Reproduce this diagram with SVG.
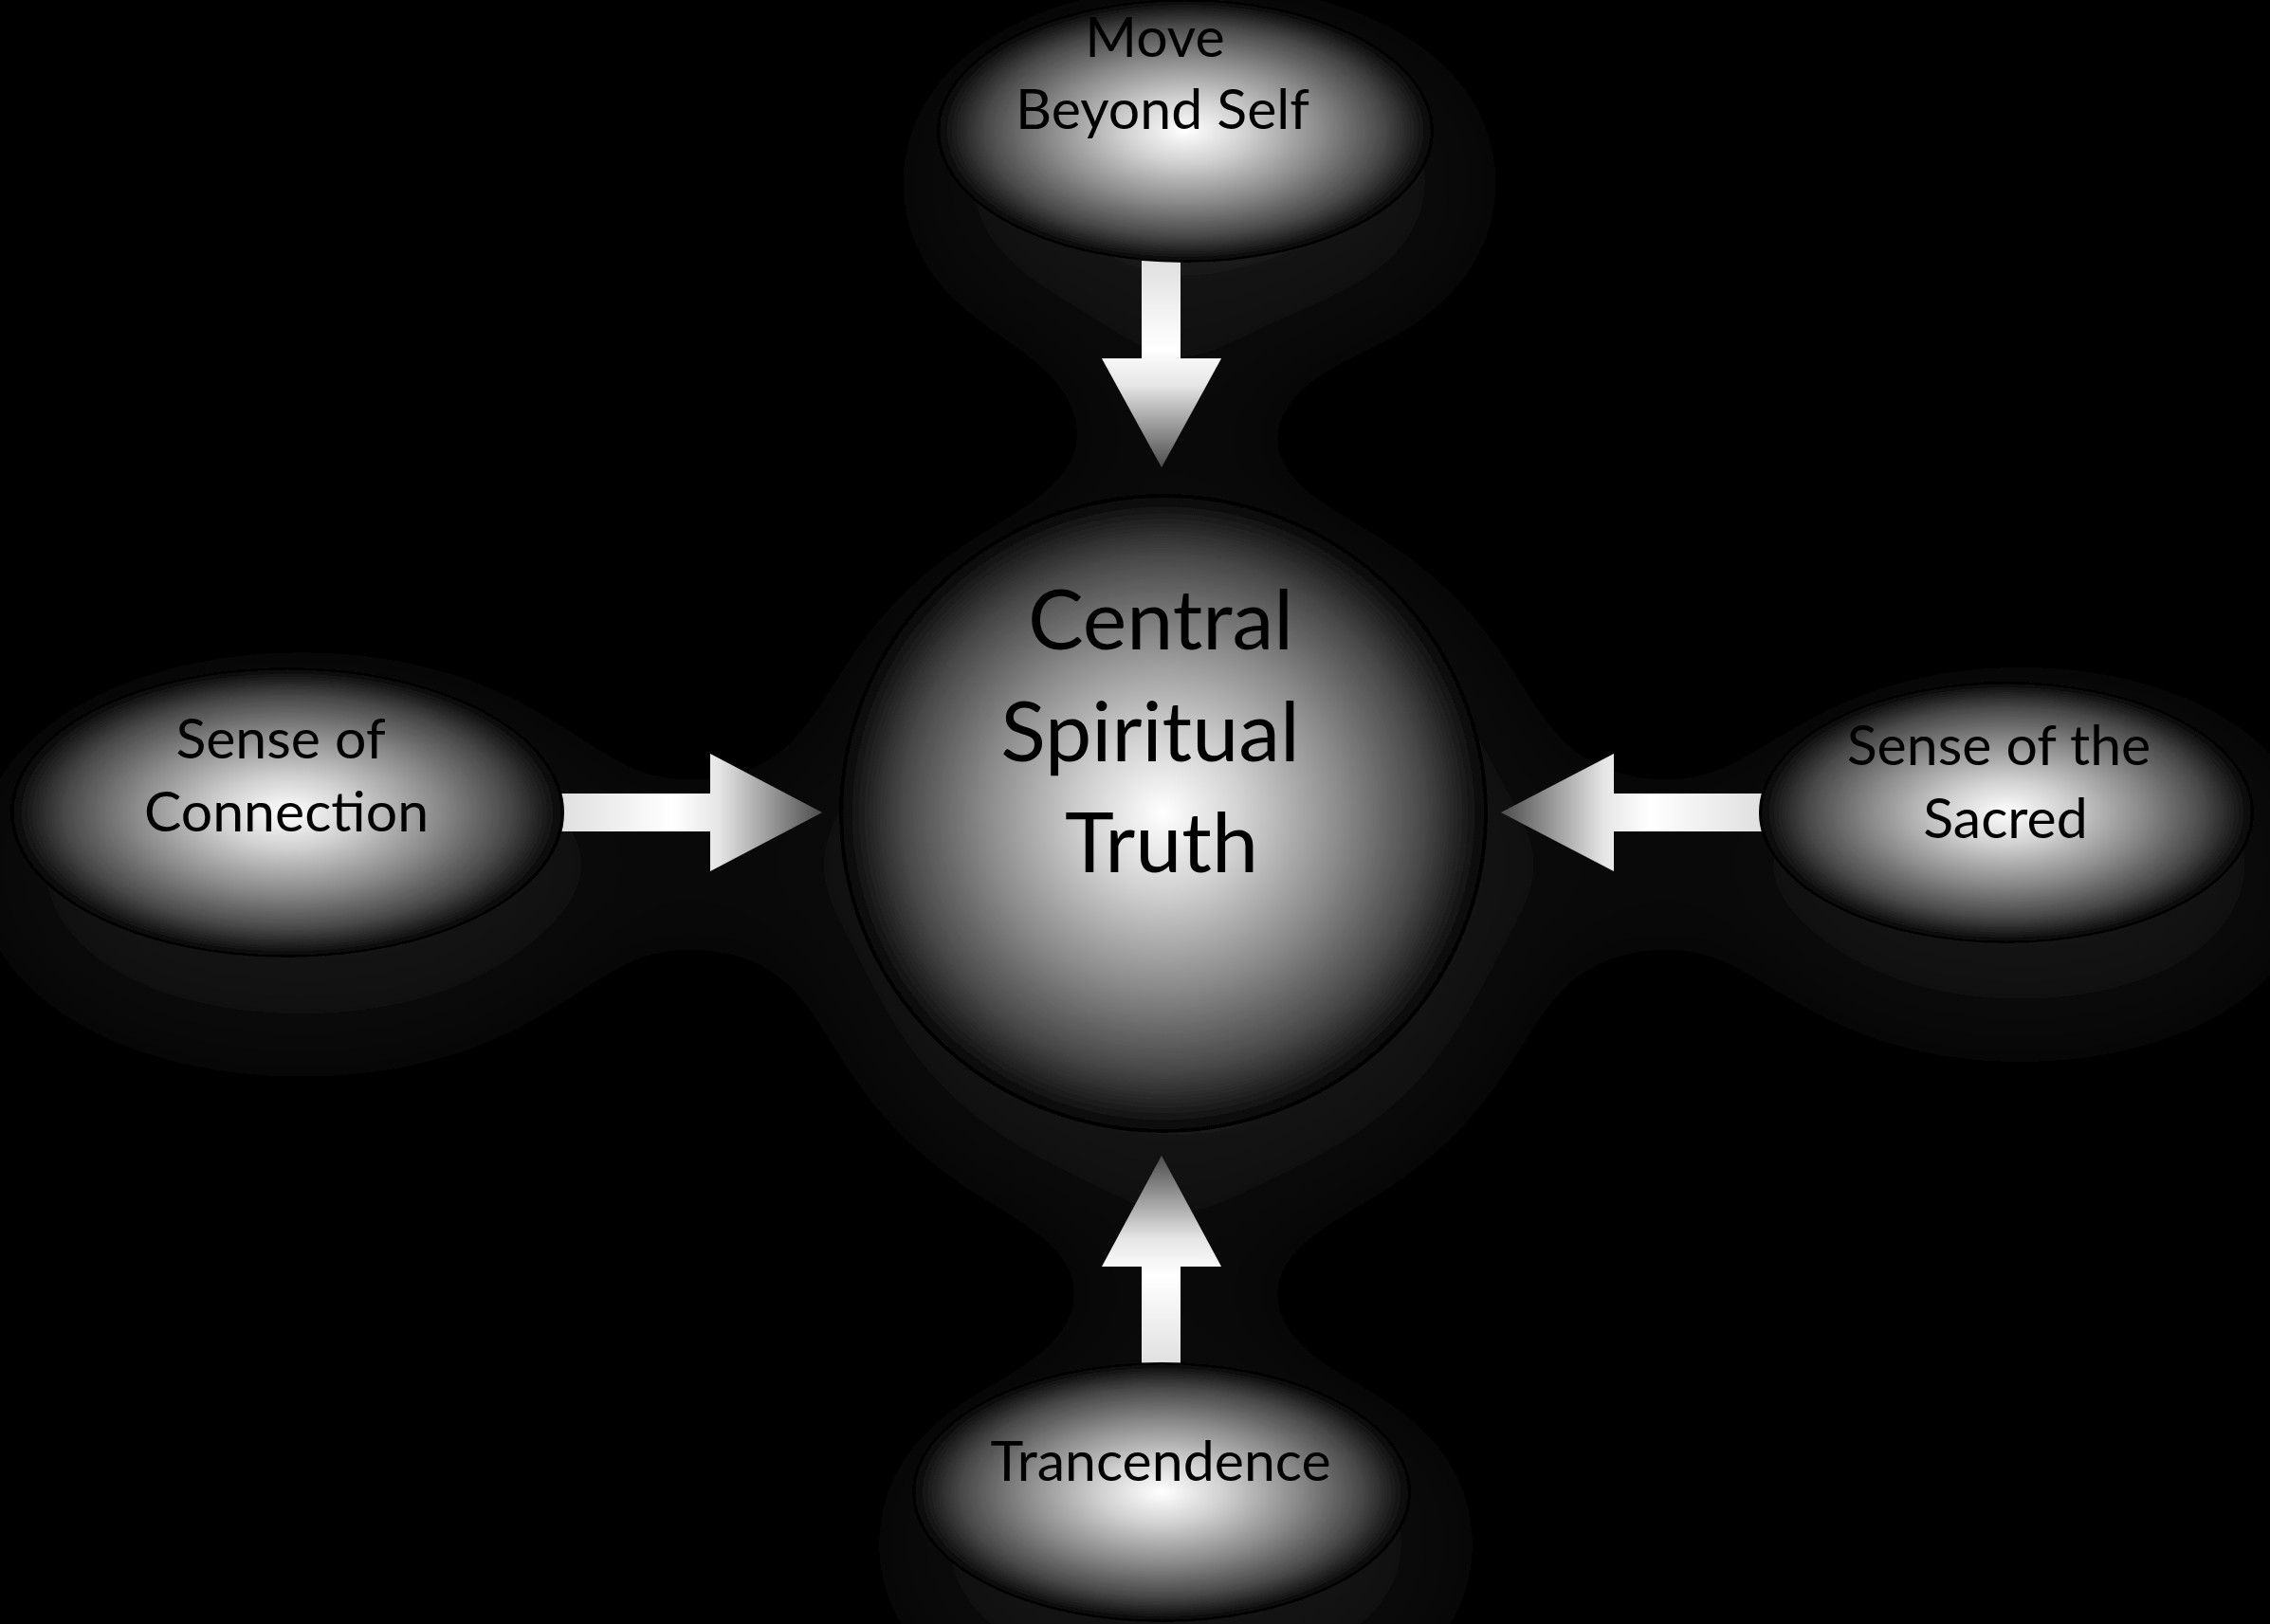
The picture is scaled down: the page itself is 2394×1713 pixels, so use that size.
<svg xmlns="http://www.w3.org/2000/svg" width="2394" height="1713" viewBox="0 0 2394 1713">
<defs>
  <radialGradient id="orb" cx="0.5" cy="0.5" r="0.5">
    <stop offset="0" stop-color="#ffffff"/>
    <stop offset="0.25" stop-color="#d0d0d0"/>
    <stop offset="0.55" stop-color="#8a8a8a"/>
    <stop offset="0.8" stop-color="#4a4a4a"/>
    <stop offset="0.94" stop-color="#1a1a1a"/>
    <stop offset="1" stop-color="#030303"/>
  </radialGradient>
  <linearGradient id="ag">
    <stop offset="0" stop-color="#dcdcdc"/>
    <stop offset="0.45" stop-color="#ffffff"/>
    <stop offset="0.62" stop-color="#e6e6e6"/>
    <stop offset="1" stop-color="#4c4c4c"/>
  </linearGradient>
  <linearGradient id="agDown" href="#ag" x1="0" y1="0" x2="0" y2="1"/>
  <linearGradient id="agUp" href="#ag" x1="0" y1="1" x2="0" y2="0"/>
  <linearGradient id="agRight" href="#ag" x1="0" y1="0" x2="1" y2="0"/>
  <linearGradient id="agLeft" href="#ag" x1="1" y1="0" x2="0" y2="0"/>
  <filter id="glow" x="-40%" y="-40%" width="180%" height="190%">
    <feGaussianBlur in="SourceAlpha" stdDeviation="75"/>
    <feOffset dx="15" dy="55" result="b"/>
    <feFlood flood-color="#1e1e1e"/>
    <feComposite in2="b" operator="in" result="s"/>
    <feMerge><feMergeNode in="s"/><feMergeNode in="SourceGraphic"/></feMerge>
  </filter>
</defs>
<style>
  .orb { fill: url(#orb); stroke: #000; stroke-width: 2; }
  .lbl { font-family: Lato, "Open Sans", sans-serif; fill: #000; text-anchor: middle; font-size: 59px; }
  .big { font-size: 88px; }
</style>
<rect x="0" y="0" width="2394" height="1713" fill="#000"/>
<g filter="url(#glow)">
<g id="connectors">
  <polygon id="arrow-top" fill="url(#agDown)" points="1204,265 1245,265 1245,378 1288,378 1225,493 1162,378 1204,378"/>
  <polygon id="arrow-bottom" fill="url(#agUp)" points="1204,1450 1245,1450 1245,1336 1288,1336 1225,1219 1162,1336 1204,1336"/>
  <polygon id="arrow-left" fill="url(#agRight)" points="580,837 749,837 749,795 867,857 749,919 749,877 580,877"/>
  <polygon id="arrow-right" fill="url(#agLeft)" points="1870,837 1702,837 1702,795 1583,857 1702,919 1702,877 1870,877"/>
</g>
<g id="node-top">
  <ellipse class="orb" cx="1250" cy="138" rx="261" ry="138"/>
  <text class="lbl" x="1218" y="60">Move</text>
  <text class="lbl" x="1226" y="136">Beyond Self</text>
</g>
<g id="node-center">
  <ellipse class="orb" cx="1227" cy="858" rx="341" ry="336"/>
  <text class="lbl big" x="1224" y="685">Central</text>
  <text class="lbl big" x="1213" y="803">Spiritual</text>
  <text class="lbl big" x="1225" y="920">Truth</text>
</g>
<g id="node-left">
  <ellipse class="orb" cx="303" cy="857" rx="291" ry="152"/>
  <text class="lbl" x="296" y="800">Sense of</text>
  <text class="lbl" x="302" y="877">Connection</text>
</g>
<g id="node-right">
  <ellipse class="orb" cx="2116" cy="857" rx="260" ry="137"/>
  <text class="lbl" x="2108" y="807">Sense of the</text>
  <text class="lbl" x="2115" y="884">Sacred</text>
</g>
<g id="node-bottom">
  <ellipse class="orb" cx="1225" cy="1574" rx="262" ry="136"/>
  <text class="lbl" x="1224" y="1562">Trancendence</text>
</g>
</g>
</svg>
